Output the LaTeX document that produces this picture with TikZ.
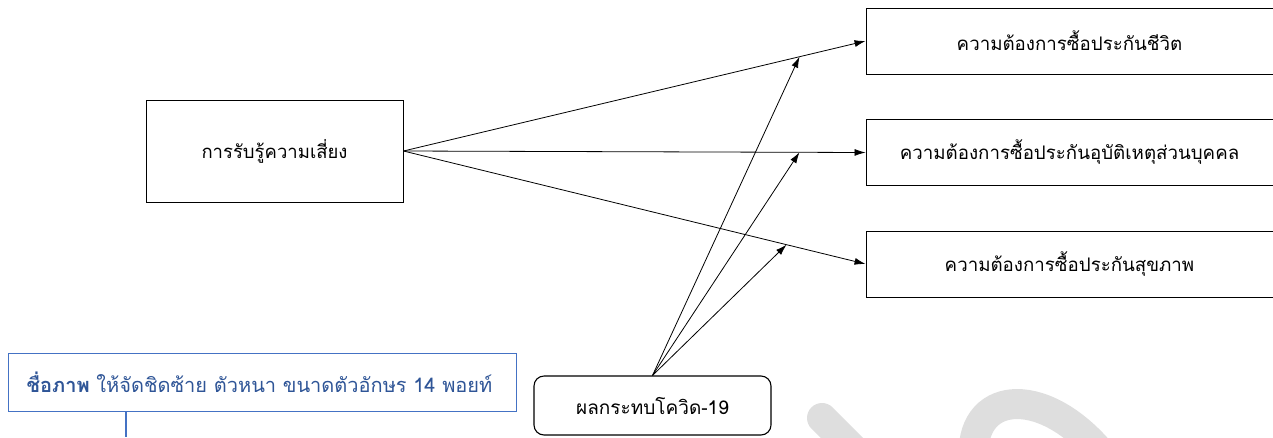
\documentclass[tikz,border=0pt]{standalone}
\usepackage{fontspec}
\setmainfont[Script=Thai]{Loma}
\usetikzlibrary{arrows.meta}
\definecolor{capblue}{HTML}{4472C4}
\definecolor{captext}{HTML}{2F5597}
\definecolor{wmgray}{HTML}{DEDEDE}
\begin{document}
\begin{tikzpicture}[x=1pt,y=-1pt,
  box/.style={draw=black,line width=0.9pt,minimum width=257pt,minimum height=102pt,inner sep=0pt,font=\fontsize{18.5}{22}\selectfont},
  rbox/.style={draw=black,line width=0.9pt,minimum width=412pt,minimum height=66pt,inner sep=0pt},
  lbl/.style={font=\fontsize{18.7}{22}\selectfont},
  rounded/.style={draw=black,line width=1.1pt,rounded corners=10pt,minimum width=237pt,minimum height=59pt,inner sep=0pt,font=\fontsize{19}{22}\selectfont},
  capbox/.style={draw=capblue,line width=1.2pt,minimum height=58pt,inner xsep=18pt,inner ysep=0pt,text width=472pt,align=left,text=captext,font=\fontsize{20}{24}\selectfont},
  conn/.style={line width=0.8pt,-{Latex[length=11pt,width=7pt]}},
  wm/.style={draw=wmgray,line width=30pt}
]
\useasboundingbox (0,0) rectangle (1273,437);
% watermark
\draw[wm,line cap=round] (822,418) -- (880,476);
\draw[wm] (974,460) .. controls (968,392) and (1040,382) .. (1100,452);
% nodes
\node[box] (L) at (274.5,151) {การรับรู้ความเสี่ยง};
\node[rbox] (R1) at (1072,41) {};
\node[rbox] (R2) at (1072,152.5) {};
\node[rbox] (R3) at (1072,264) {};
\node[lbl] (t1) at (1069.5,41) {ความต้องการซื้อประกันชีวิต};
\node[lbl] (t2) at (1069.5,152.5) {ความต้องการซื้อประกันอุบัติเหตุส่วนบุคคล};
\node[lbl] (t3) at (1069.5,264) {ความต้องการซื้อประกันสุขภาพ};
\node[rounded,fill=white] (B) at (652.5,405.5) {ผลกระทบโควิด-19};
\node[capbox,fill=white,anchor=west] (C) at (8,382.5) {\textbf{ชื่อภาพ} ให้จัดชิดซ้าย ตัวหนา ขนาดตัวอักษร 14 พอยท์};
\coordinate (Ctail) at (126,437);
\draw[capblue,line width=1.2pt] (C.south -| Ctail) -- (Ctail);
% connectors
\draw[conn] (L.east) -- (R1.west |- t1) coordinate[pos=0.857] (m1);
\draw[conn] (L.east) -- (R2.west |- t2) coordinate[pos=0.857] (m2);
\draw[conn] (L.east) -- (R3.west |- t3) coordinate[pos=0.829] (m3);
\draw[conn] (B.north) -- (m1);
\draw[conn] (B.north) -- (m2);
\draw[conn] (B.north) -- (m3);
\end{tikzpicture}
\end{document}
